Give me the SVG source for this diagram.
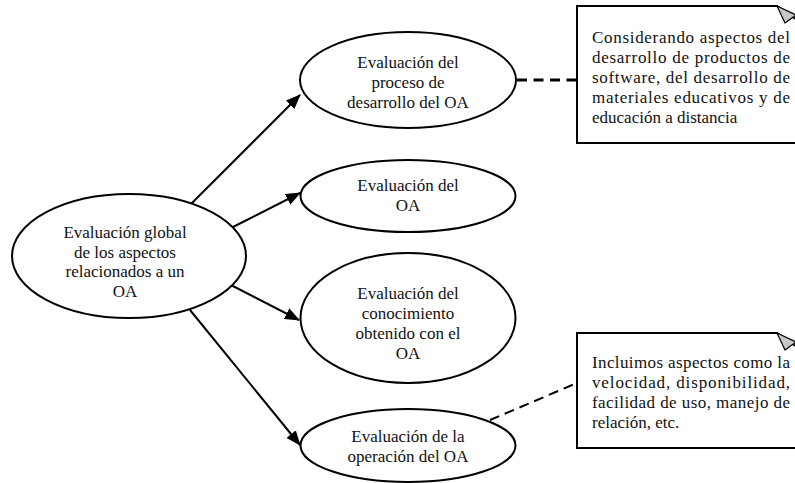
<svg xmlns="http://www.w3.org/2000/svg" width="795" height="483" viewBox="0 0 795 483">
  <style>
    .node ellipse { fill: #ffffff; stroke: #000000; stroke-width: 2; }
    .note .frame { fill: #ffffff; stroke: #000000; stroke-width: 2; }
    .note .fold { fill: #c8c8c8; stroke: #000000; stroke-width: 1.2; stroke-linejoin: round; }
    text { font-family: "Liberation Serif", "Times New Roman", serif; font-size: 17px; fill: #111111; }
    .node text { text-anchor: middle; }
    .edge { stroke: #000000; stroke-width: 2; fill: none; }
    .link-bold { stroke: #000000; stroke-width: 3; stroke-dasharray: 10 6.5; fill: none; }
    .link { stroke: #000000; stroke-width: 2; stroke-dasharray: 10 6; fill: none; }
  </style>
  <defs>
    <marker id="arrow" viewBox="0 0 15 12" refX="14" refY="6" markerWidth="15" markerHeight="12" markerUnits="userSpaceOnUse" orient="auto">
      <path d="M0,0 L15,6 L0,12 z" fill="#000000"/>
    </marker>
  </defs>

  <!-- connectors -->
  <g id="connectors">
    <line class="edge" x1="190" y1="205" x2="300" y2="95" marker-end="url(#arrow)"/>
    <line class="edge" x1="227" y1="230" x2="300" y2="193" marker-end="url(#arrow)"/>
    <line class="edge" x1="227" y1="283" x2="299" y2="320" marker-end="url(#arrow)"/>
    <line class="edge" x1="190" y1="310" x2="300" y2="445" marker-end="url(#arrow)"/>
    <line class="link-bold" x1="517" y1="80" x2="577" y2="80"/>
    <line class="link" x1="490" y1="420" x2="577" y2="383"/>
  </g>

  <!-- central node -->
  <g id="global" class="node">
    <ellipse cx="129" cy="256" rx="117" ry="62"/>
    <text x="125" y="238">Evaluación global</text>
    <text x="125" y="257.5">de los aspectos</text>
    <text x="125" y="277">relacionados a un</text>
    <text x="125" y="296.5">OA</text>
  </g>

  <g id="proceso" class="node">
    <ellipse cx="408" cy="80" rx="108" ry="48"/>
    <text x="408" y="68">Evaluación del</text>
    <text x="408" y="88">proceso de</text>
    <text x="408" y="108">desarrollo del OA</text>
  </g>

  <g id="oa" class="node">
    <ellipse cx="408" cy="196" rx="107.5" ry="36"/>
    <text x="408" y="191">Evaluación del</text>
    <text x="408" y="211">OA</text>
  </g>

  <g id="conocimiento" class="node">
    <ellipse cx="408" cy="318" rx="107.5" ry="65"/>
    <text x="408" y="299">Evaluación del</text>
    <text x="408" y="319">conocimiento</text>
    <text x="408" y="339">obtenido con el</text>
    <text x="408" y="359">OA</text>
  </g>

  <g id="operacion" class="node">
    <ellipse cx="408" cy="445.5" rx="107.5" ry="36.5"/>
    <text x="408" y="442">Evaluación de la</text>
    <text x="408" y="462">operación del OA</text>
  </g>

  <!-- notes with folded corner -->
  <g id="nota-proceso" class="note">
    <path class="frame" d="M577,6 H777 L797,20 V143 H577 Z"/>
    <path class="fold" d="M777,6 L796,15 L785,23 Z"/>
    <text x="592" y="43" textLength="198" lengthAdjust="spacing">Considerando aspectos del</text>
    <text x="592" y="63" textLength="198" lengthAdjust="spacing">desarrollo de productos de</text>
    <text x="592" y="83" textLength="198" lengthAdjust="spacing">software, del desarrollo de</text>
    <text x="592" y="103" textLength="198" lengthAdjust="spacing">materiales educativos y de</text>
    <text x="592" y="123">educación a distancia</text>
  </g>

  <g id="nota-operacion" class="note">
    <path class="frame" d="M577,333 H777 L797,347 V448 H577 Z"/>
    <path class="fold" d="M777,333 L796,342 L785,350 Z"/>
    <text x="592" y="368" textLength="198" lengthAdjust="spacing">Incluimos aspectos como la</text>
    <text x="592" y="388" textLength="198" lengthAdjust="spacing">velocidad,   disponibilidad,</text>
    <text x="592" y="408" textLength="198" lengthAdjust="spacing">facilidad de uso, manejo de</text>
    <text x="592" y="428">relación, etc.</text>
  </g>
</svg>
